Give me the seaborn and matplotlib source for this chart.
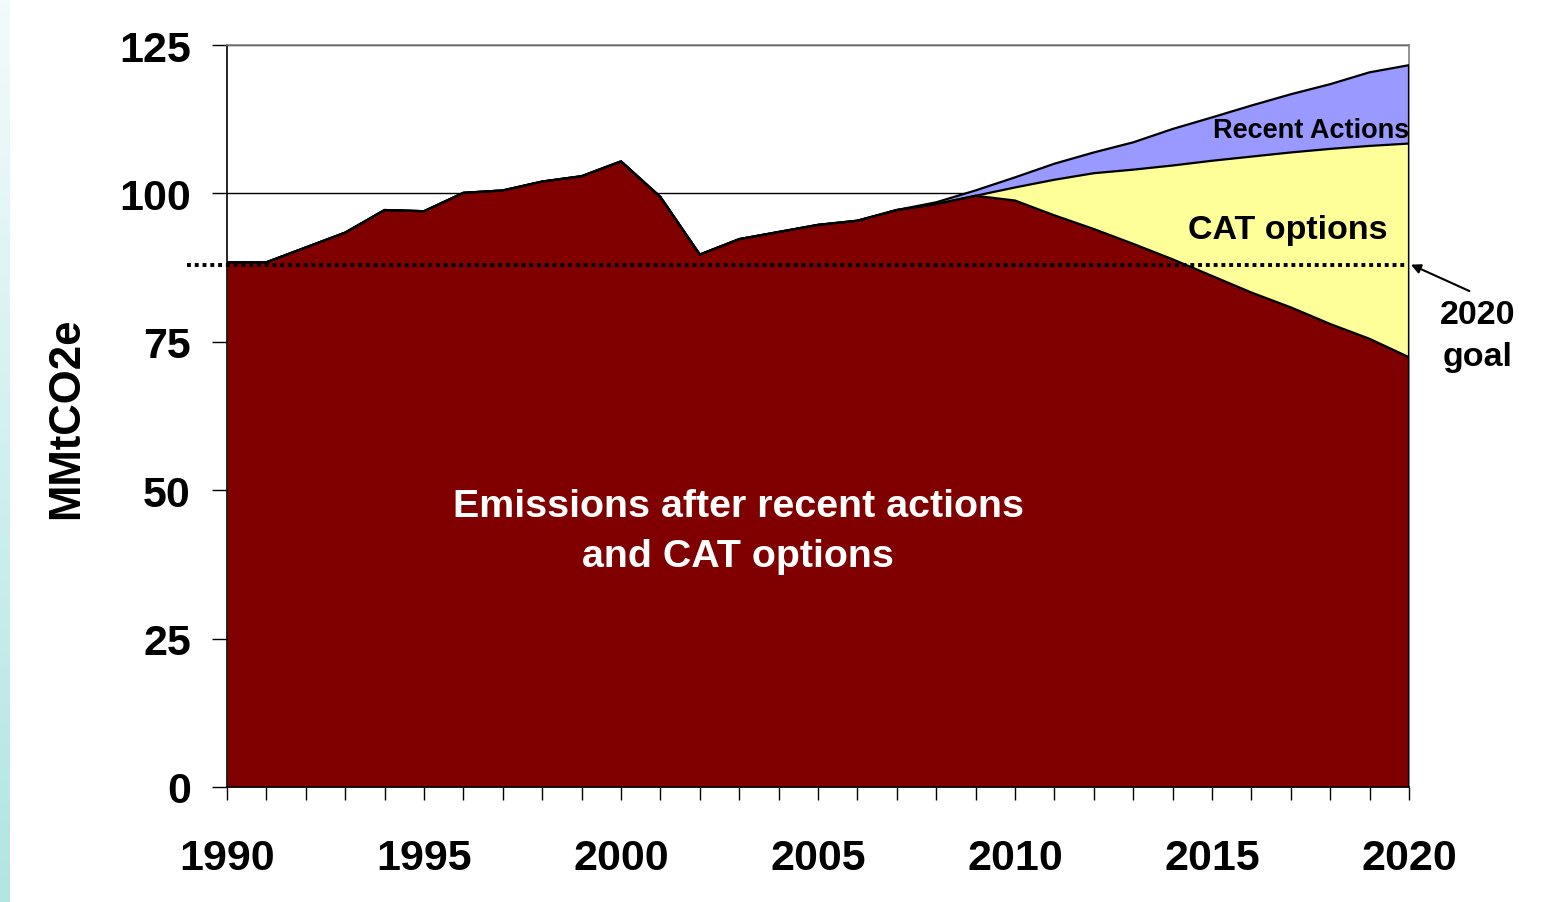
import numpy as np
import pandas as pd
import seaborn as sns
from matplotlib import pyplot as plt

years = list(range(1990, 2021))

# emissions remaining after recent actions and CAT options (MMtCO2e)
emissions = [88.4, 88.4, 90.9, 93.4, 97.2, 97.0, 100.1, 100.5, 102.0, 102.9,
             105.4, 99.4, 89.7, 92.3, 93.5, 94.7, 95.4, 97.2, 98.2, 99.6,
             98.8, 96.3, 94.0, 91.5, 88.9, 86.1, 83.3, 80.8, 78.0, 75.5, 72.4]
# reductions from CAT options
cat_options = [0.0] * 20 + [2.2, 6.0, 9.4, 12.5, 15.8, 19.4, 22.9, 26.1, 29.5, 32.5, 36.0]
# reductions from recent actions
recent_actions = [0.0] * 17 + [0.0, 0.3, 0.9, 1.7, 2.7, 3.5, 4.6, 6.15, 7.3, 8.6, 9.8, 10.9, 12.4, 13.2]

goal_2020 = 88.0
y_ticks = [0, 25, 50, 75, 100, 125]
x_labels = [1990, 1995, 2000, 2005, 2010, 2015, 2020]

df = pd.DataFrame({'year': years, 'emissions': emissions,
                   'cat': cat_options, 'recent': recent_actions})
df['cat_top'] = df['emissions'] + df['cat']
df['recent_top'] = df['cat_top'] + df['recent']

sns.set_theme(style='white')
plt.rcParams['font.family'] = ['Liberation Sans', 'DejaVu Sans']
plt.rcParams['font.weight'] = 'bold'
for key in ['text.color', 'axes.labelcolor', 'xtick.color', 'ytick.color']:
    plt.rcParams[key] = 'black'

fig = plt.figure(figsize=(15.6, 9.03), dpi=100)

# light teal strip on the left edge, pale band at the top
bg = fig.add_axes([0, 0, 10 / 1560, 1])
grad = np.linspace(0, 1, 256).reshape(-1, 1)
bg.imshow(grad, aspect='auto', cmap=sns.blend_palette(['#f3fbfb', '#b2e4e4'], as_cmap=True))
bg.axis('off')
top = fig.add_axes([0, 1 - 6 / 903, 1, 6 / 903])
top.set_facecolor('#f3fbfb')
top.axis('off')

ax = fig.add_axes([227 / 1560, 1 - 788 / 903, (1409 - 227) / 1560, (788 - 46) / 903])

ax.fill_between(df['year'], 0, df['emissions'], color='#800000', lw=0, zorder=2)
ax.fill_between(df['year'], df['emissions'], df['cat_top'], color='#ffff99', lw=0, zorder=2)
ax.fill_between(df['year'], df['cat_top'], df['recent_top'], color='#9999ff', lw=0, zorder=2)
for col in ['emissions', 'cat_top', 'recent_top']:
    sns.lineplot(data=df, x='year', y=col, ax=ax, color='black', lw=1.6, zorder=3)
ax.vlines(df['year'].iloc[-1], 0, df['recent_top'].iloc[-1], color='black', lw=1.6, zorder=3)

# 2020 goal
ax.plot([years[0] - 1.02, years[-1]], [goal_2020, goal_2020], color='black',
        lw=2.8, ls=(0, (1, 1)), clip_on=False, zorder=4)
ax.annotate('2020\ngoal', xy=(years[-1] + 0.05, goal_2020), xytext=(2021.75, 76.0),
            ha='center', va='center', fontsize=24.5, fontweight='bold', linespacing=1.45,
            annotation_clip=False,
            arrowprops=dict(arrowstyle='-|>', color='black', lw=1.5,
                            shrinkA=2, shrinkB=0, relpos=(0.42, 1.1), mutation_scale=14))

ax.text(2020, 110.7, 'Recent Actions', ha='right', va='center', fontsize=19.5,
        fontweight='bold', color='black', zorder=5)
ax.text(2016.93, 94.0, 'CAT options', ha='center', va='center', fontsize=24.5,
        fontweight='bold', color='black', zorder=5)
ax.text(2002.97, 43.1, 'Emissions after recent actions\nand CAT options', ha='center',
        va='center', fontsize=28.4, fontweight='bold', color='white', linespacing=1.5, zorder=5)

ax.set_xlim(years[0], years[-1])
ax.set_ylim(0, 125)
ax.set_xticks(years)
ax.set_xticklabels([str(y) if y in x_labels else '' for y in years])
ax.set_yticks(y_ticks)
ax.yaxis.grid(True, color='black', lw=1)
ax.xaxis.grid(False)
ax.set_axisbelow(True)
ax.tick_params(axis='x', bottom=True, direction='out', length=9, width=1, color='black',
               pad=28, labelsize=31)
ax.tick_params(axis='y', left=True, direction='out', length=11, width=1, color='black',
               pad=15, labelsize=31)
for lbl in ax.get_xticklabels() + ax.get_yticklabels():
    lbl.set_fontweight('bold')
ax.set_xlabel('')
ax.set_ylabel('')
ax.set_facecolor('white')
ax.spines['left'].set_color('black')
ax.spines['bottom'].set_color('black')
ax.spines['top'].set_color('#808080')
ax.spines['right'].set_color('#808080')
for s in ax.spines.values():
    s.set_linewidth(1.2)

fig.text(67 / 1560, 1 - 418 / 903, 'MMtCO2e', rotation=90, ha='center', va='center',
         fontsize=31.5, fontweight='bold')

fig.savefig('out.png', dpi=100)
